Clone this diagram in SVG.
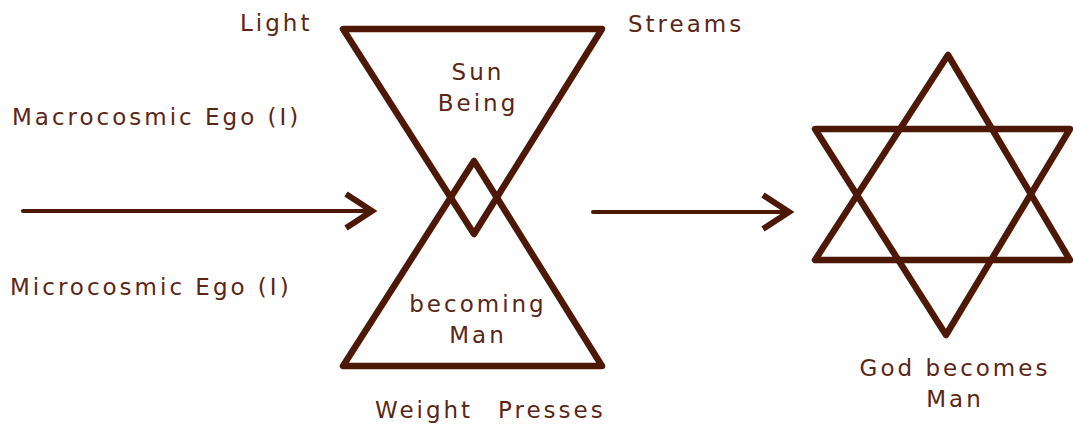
<svg xmlns="http://www.w3.org/2000/svg" width="1073" height="428" viewBox="0 0 1073 428">
<style>
.ln{fill:none;stroke:#4e1806;stroke-linejoin:round;stroke-linecap:round}
.sh{stroke-width:6.5}
.ar{stroke-width:4}
.hd{stroke-width:6;stroke-linejoin:miter;stroke-linecap:butt}
text{font-family:"DejaVu Sans","Verdana",sans-serif;font-size:23px;fill:#5a2616;letter-spacing:3px}
.c{text-anchor:middle}
</style>
<rect width="1073" height="428" fill="#ffffff"/>
<g id="hourglass">
<polygon class="ln sh" points="343,29 602,29 474,234"/>
<polygon class="ln sh" points="343,366 602,366 474,161"/>
<text class="c" x="478" y="80">Sun</text>
<text class="c" x="478" y="111">Being</text>
<text class="c" x="478" y="312">becoming</text>
<text class="c" x="478" y="343">Man</text>
</g>
<g id="star">
<polygon class="ln sh" points="948,55 815,260 1070,260"/>
<polygon class="ln sh" points="815,129 1070,129 946,335"/>
<text class="c" x="955" y="376">God becomes</text>
<text class="c" x="955" y="407">Man</text>
</g>
<g id="labels">
<text x="240" y="31">Light</text>
<text x="628" y="32">Streams</text>
<text x="12" y="125">Macrocosmic Ego (I)</text>
<text x="10" y="295">Microcosmic Ego (I)</text>
<text x="375" y="418">Weight</text>
<text x="498" y="418">Presses</text>
</g>
<g id="connectors">
<line class="ln ar" x1="23" y1="211" x2="370" y2="211"/>
<polyline class="ln hd" points="346,194 372,211 346,228"/>
<line class="ln ar" x1="593" y1="212" x2="788" y2="212"/>
<polyline class="ln hd" points="763,195 789,212 763,229"/>
</g>
</svg>
